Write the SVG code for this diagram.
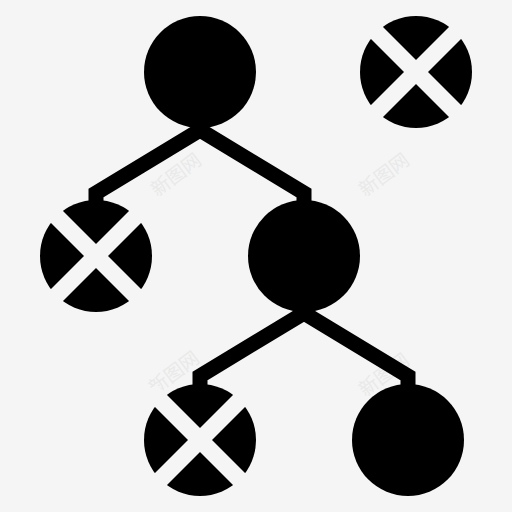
<svg xmlns="http://www.w3.org/2000/svg" width="512" height="512" viewBox="0 0 512 512">
  <style>
    .node { fill: #000; }
    .cut { stroke: #f5f5f5; stroke-width: 17; }
    .link { fill: none; stroke: #000; stroke-width: 15; stroke-linejoin: miter; stroke-miterlimit: 10; }
    .wm { fill: #e9e9e9; font-family: "Noto Sans CJK SC", sans-serif; font-size: 19px; }
  </style>
  <rect width="512" height="512" fill="#f5f5f5"/>
  <g id="watermarks">
    <text class="wm" text-anchor="middle" transform="translate(180,180) rotate(-37)">新图网</text>
    <text class="wm" text-anchor="middle" transform="translate(388,180) rotate(-37)">新图网</text>
    <text class="wm" text-anchor="middle" transform="translate(178,378) rotate(-37)">新图网</text>
    <text class="wm" text-anchor="middle" transform="translate(388,380) rotate(-37)">新图网</text>
  </g>
  <g id="connectors">
    <polyline class="link" points="96,210 96,193 200,130 304,193 304,210"/>
    <polyline class="link" points="200,394 200,376 304,313 408,376 408,394"/>
  </g>
  <g id="root"><circle class="node" cx="200" cy="72" r="56"/></g>
  <g id="x-top">
    <circle class="node" cx="416" cy="72" r="56"/>
    <line class="cut" x1="366" y1="22" x2="466" y2="122"/>
    <line class="cut" x1="466" y1="22" x2="366" y2="122"/>
  </g>
  <g id="x-left">
    <circle class="node" cx="96" cy="256" r="56"/>
    <line class="cut" x1="46" y1="206" x2="146" y2="306"/>
    <line class="cut" x1="146" y1="206" x2="46" y2="306"/>
  </g>
  <g id="middle"><circle class="node" cx="304" cy="256" r="56"/></g>
  <g id="x-bottom">
    <circle class="node" cx="200" cy="440" r="56"/>
    <line class="cut" x1="150" y1="390" x2="250" y2="490"/>
    <line class="cut" x1="250" y1="390" x2="150" y2="490"/>
  </g>
  <g id="leaf"><circle class="node" cx="408" cy="440" r="56"/></g>
</svg>
